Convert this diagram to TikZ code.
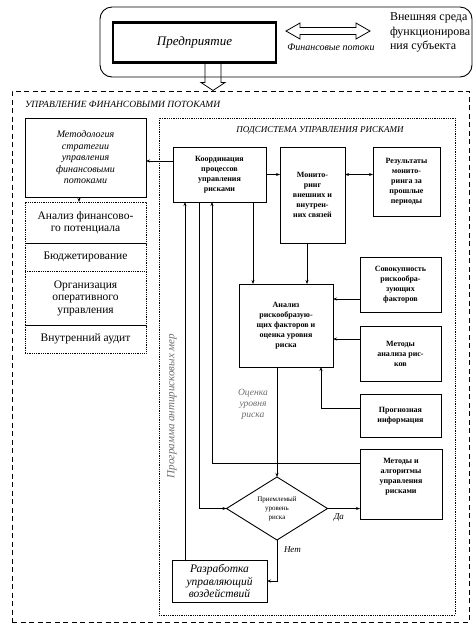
\documentclass[tikz,border=0pt]{standalone}
\usepackage{fontspec}
\setmainfont{Liberation Serif}
\usetikzlibrary{arrows.meta,shapes.geometric}

\begin{document}
\begin{tikzpicture}[x=1pt, y=-1pt, inner sep=0, outer sep=0,
  >={Stealth[length=4pt,width=3pt]},
  box/.style={rectangle, draw=black, line width=0.9pt, align=center,
    font=\fontsize{8}{10}\selectfont\bfseries},
  dotbox/.style={rectangle, draw=black, line width=0.8pt,
    dash pattern=on 0.8pt off 1pt, align=center,
    minimum width=121pt, font=\fontsize{11.5}{12.5}\selectfont},
  note/.style={align=center, text=gray!85!black,
    font=\fontsize{9.5}{11}\selectfont\itshape},
  link/.style={->, line width=0.8pt}]
  \useasboundingbox (0,0) rectangle (474,633);

  % environment of the enterprise
  \node[rectangle, draw=black, rounded corners=12pt, line width=0.9pt,
    minimum width=372pt,
    minimum height=70pt] (env) at (286,42) {};
  \node[rectangle, draw=black, line width=2.6pt,
    minimum width=163pt,
    minimum height=40pt,
    font=\fontsize{13}{15}\selectfont\itshape] (firm) at (194.5,42.5) {Предприятие};
  \node[anchor=west, align=left,
    font=\fontsize{12}{14.5}\selectfont] (ext) at (390,32.5) {Внешняя среда\\функционирова\\ния субъекта};
  \node[font=\fontsize{10}{12}\selectfont\itshape] (flow-text) at (331,47) {Финансовые потоки};

  \coordinate (flow-l) at ([xshift=10pt, yshift=11.5pt]firm.east);
  \coordinate (flow-r) at ([xshift=-20pt]flow-l -| ext.west);
  \draw[line width=0.8pt] (flow-l) -- ++(14,-8) -- ++(0,4.5) -- ([xshift=-14pt, yshift=3.5pt]flow-r)
    -- ++(0,-4.5) -- (flow-r) -- ++(-14,8) -- ++(0,-4.5) -- ([xshift=14pt, yshift=-3.5pt]flow-l)
    -- ++(0,4.5) -- cycle;

  % financial flows management
  \node[rectangle, draw=black, line width=1pt, dash pattern=on 5pt off 3.5pt,
    minimum width=457pt,
    minimum height=531pt] (fin-frame) at (240.5,356.5) {};
  \node[anchor=west, font=\fontsize{9.5}{11}\selectfont\itshape] (fin-title) at (25,104) {УПРАВЛЕНИЕ ФИНАНСОВЫМИ ПОТОКАМИ};

  \coordinate (firm-out) at ([xshift=18.5pt]firm.south);
  \draw[line width=0.8pt] ([xshift=-8pt]firm-out) -- ++(0,20) -- ++(-4,0) -- ([yshift=-28pt]firm-out)
    -- ([xshift=12pt, yshift=-20pt]firm-out) -- ([xshift=8pt, yshift=-20pt]firm-out) -- ([xshift=8pt]firm-out);

  \node[rectangle, draw=black, line width=0.9pt, align=center,
    minimum width=121pt,
    minimum height=79pt,
    font=\fontsize{10}{11.5}\selectfont\itshape] (method) at (85.5,157.5) {Методология\\стратегии\\управления\\финансовыми\\потоками};
  \node[dotbox, anchor=north, minimum height=41pt] (potential) at ([yshift=-5pt]method.south) {Анализ финансово-\\го потенциала};
  \node[dotbox, anchor=north, minimum height=28pt] (budget) at (potential.south) {Бюджетирование};
  \node[dotbox, anchor=north, minimum height=54pt] (operative) at (budget.south) {Организация\\оперативного\\управления};
  \node[dotbox, anchor=north, minimum height=28pt] (audit) at (operative.south) {Внутренний аудит};

  % risk management subsystem
  \node[rectangle, draw=black, line width=0.8pt, dash pattern=on 0.8pt off 1pt,
    minimum width=296pt,
    minimum height=497pt] (risk-frame) at (307,366.5) {};
  \node[font=\fontsize{9}{11}\selectfont\itshape] (risk-title) at (320,130) {ПОДСИСТЕМА УПРАВЛЕНИЯ РИСКАМИ};

  \node[box, minimum width=93pt, minimum height=55pt] (coord) at (219.5,174.5) {Координация\\процессов\\управления\\рисками};
  \node[box, minimum width=65pt, minimum height=96pt] (monitor) at (312.5,195) {Монито-\\ринг\\внешних и\\внутрен-\\них связей};
  \node[box, minimum width=67pt, minimum height=69pt] (results) at (406.5,181.5) {Результаты\\монито-\\ринга за\\прошлые\\периоды};
  \node[box, minimum width=81pt, minimum height=55pt] (factors) at (400.5,284.5) {Совокупность\\рискообра-\\зующих\\факторов};
  \node[box, minimum width=81pt, minimum height=55pt] (methods) at (400.5,353.5) {Методы\\анализа рис-\\ков};
  \node[box, minimum width=81pt, minimum height=43pt] (forecast) at (400.5,415.5) {Прогнозная\\информация};
  \node[box, minimum width=94pt, minimum height=83pt] (analysis) at (286,325.5) {Анализ\\рискообразую-\\щих факторов и\\оценка уровня\\риска};
  \node[box, minimum width=82pt, minimum height=70pt] (algo) at (401,484) {Методы и\\алгоритмы\\управления\\рисками\\[6pt]};
  \node[diamond, draw=black, line width=0.9pt, aspect=1.6, align=center,
    minimum width=101pt,
    minimum height=63pt,
    font=\fontsize{7}{9}\selectfont] (accept) at (277,508.5) {Приемлемый\\уровень\\риска};
  \node[rectangle, draw=black, line width=0.9pt, align=center,
    minimum width=95pt,
    minimum height=42pt,
    font=\fontsize{11.5}{12.5}\selectfont\itshape] (develop) at (219.5,581) {Разработка\\управляющий\\воздействий};

  \node[note] (estimate) at (253,404) {Оценка\\уровня\\риска};
  \node[note, rotate=90, font=\fontsize{11}{13}\selectfont\itshape] (program) at (172,406) {Программа антирисковых мер};

  \draw[link] ([yshift=13.5pt]coord.west) -- ([yshift=13.5pt]coord.west -| method.east);
  \draw[link] ([xshift=-6.5pt]method.south) -- ([xshift=-6.5pt]potential.north);
  \draw[link] (coord.east) -- (coord.east -| monitor.west);
  \draw[<->, line width=0.8pt] (monitor.east |- coord.east) -- (results.west |- coord.east);
  \draw[link] ([xshift=-5.5pt]monitor.south) -- ([xshift=-5.5pt]monitor.south |- analysis.north);
  \draw[link] ([xshift=33.5pt]coord.south) -- ([xshift=33.5pt]coord.south |- analysis.north);

  \draw[link] ([yshift=-14.5pt]factors.west) -- ([yshift=-14.5pt]factors.west -| analysis.east);
  \draw[link] ([yshift=14.5pt]methods.west) -- ([yshift=14.5pt]methods.west -| analysis.east);
  \draw[link] ([yshift=7.5pt]forecast.west) -| ([xshift=35pt]analysis.south);

  \draw[link] (accept.north |- analysis.south) -- (accept.north);
  \draw[link] ([yshift=21pt]algo.west) -| ([xshift=-7.5pt]coord.south);
  \draw[link] ([xshift=-20.5pt]coord.south) |- (accept.west);
  \draw[link] (accept.east) -- node[pos=0.35, below=5pt, font=\fontsize{9}{11}\selectfont\itshape]{Да} (accept.east -| algo.west);
  \draw[link] (accept.south) |- node[pos=0.12, right=7pt, font=\fontsize{9}{11}\selectfont\itshape]{Нет} (develop.east);
  \draw[link] ([xshift=-34.5pt]develop.north) -- ([xshift=-34.5pt]develop.north |- coord.south);
\end{tikzpicture}
\end{document}
